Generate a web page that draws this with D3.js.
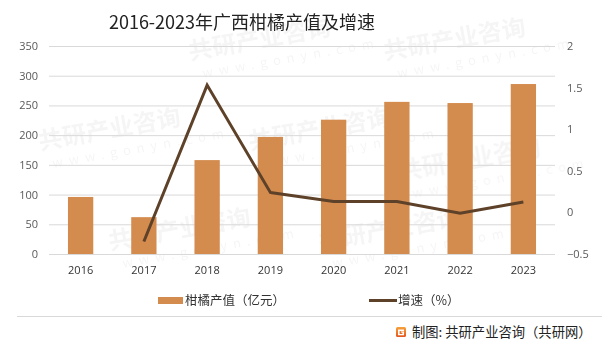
<!DOCTYPE html>
<html>
<head>
<meta charset="utf-8">
<script src="https://cdn.jsdelivr.net/npm/d3@7/dist/d3.min.js"></script>
<style>
  html, body { margin: 0; padding: 0; background: #fff; }
  svg { display: block; font-family: "Noto Sans CJK SC", "Noto Sans", sans-serif; }
</style>
</head>
<body>
<svg id="chart" width="602" height="347"></svg>
<script>
// Citrus output value of Guangxi (100 million yuan) and year-on-year growth
const years = ["2016", "2017", "2018", "2019", "2020", "2021", "2022", "2023"];
const outputValue = [96, 62, 158, 197, 226, 256, 254, 286];
const growthRate = [null, -0.35, 1.53, 0.24, 0.13, 0.13, -0.01, 0.125];
const leftTicks = [0, 50, 100, 150, 200, 250, 300, 350];
const rightTicks = [-0.5, 0, 0.5, 1, 1.5, 2];

const title = "2016-2023年广西柑橘产值及增速";
const barLabel = "柑橘产值（亿元）";
const lineLabel = "增速（%）";
const credit = "制图: 共研产业咨询（共研网）";

const barColor = "#D48B4E";
const lineColor = "#5E4129";
const gridColor = "#D9D9D9";
const textColor = "#595959";

const svg = d3.select("#chart");
const plot = { left: 49, right: 555, top: 46, bottom: 254 };

// faint background watermarks
const wm = svg.append("g").attr("fill", "#000").attr("opacity", 0.04)
  .attr("font-weight", "bold");
const wmSpots = [[190, 60], [385, 60], [40, 150], [250, 150], [400, 180], [110, 250], [320, 250]];
wmSpots.forEach(([x, y]) => {
  const g = wm.append("g").attr("transform", `translate(${x},${y}) rotate(-10)`);
  g.append("text").attr("font-size", 24).text("共研产业咨询");
  g.append("text").attr("y", 20).attr("x", 10).attr("font-size", 13)
    .attr("font-weight", "normal").attr("letter-spacing", 6).text("www.gonyn.com");
});

const x = d3.scaleBand().domain(years).range([plot.left, plot.right]).paddingInner(0.6).paddingOuter(0.3);
const yL = d3.scaleLinear().domain([0, 350]).range([plot.bottom, plot.top]);
const yR = d3.scaleLinear().domain([-0.5, 2]).range([plot.bottom, plot.top]);
const center = d => x(d) + x.bandwidth() / 2;

// gridlines
svg.append("g").selectAll("line").data(leftTicks).join("line")
  .attr("x1", plot.left).attr("x2", plot.right)
  .attr("y1", d => yL(d) + 0.5).attr("y2", d => yL(d) + 0.5)
  .attr("stroke", gridColor).attr("stroke-width", 1);

// left axis
const axL = svg.append("g").attr("transform", `translate(${plot.left - 11},0)`)
  .call(d3.axisLeft(yL).tickValues(leftTicks).tickSize(0).tickPadding(0));
axL.select(".domain").remove();
axL.selectAll("text").attr("fill", textColor).attr("font-size", 11)
  .attr("font-family", "'Open Sans', 'Noto Sans', sans-serif");

// right axis
const axR = svg.append("g").attr("transform", `translate(${plot.right + 12},0)`)
  .call(d3.axisRight(yR).tickValues(rightTicks).tickSize(0).tickPadding(0).tickFormat(d3.format("")));
axR.select(".domain").remove();
axR.selectAll("text").attr("fill", textColor).attr("font-size", 11)
  .attr("font-family", "'Open Sans', 'Noto Sans', sans-serif");

// x axis labels
const axX = svg.append("g").attr("transform", `translate(0,${plot.bottom + 8})`)
  .call(d3.axisBottom(x).tickSize(0).tickPadding(4));
axX.select(".domain").remove();
axX.selectAll("text").attr("fill", "#333").attr("font-size", 11)
  .attr("font-family", "'Open Sans', 'Noto Sans', sans-serif");

// bars
svg.append("g").selectAll("rect").data(years).join("rect")
  .attr("x", d => x(d))
  .attr("width", x.bandwidth())
  .attr("y", (d, i) => yL(outputValue[i]))
  .attr("height", (d, i) => yL(0) - yL(outputValue[i]))
  .attr("fill", barColor);

// growth line
const pts = years.map((d, i) => ({ year: d, v: growthRate[i] })).filter(p => p.v !== null);
svg.append("path").datum(pts)
  .attr("d", d3.line().x(p => center(p.year)).y(p => yR(p.v)))
  .attr("fill", "none").attr("stroke", lineColor).attr("stroke-width", 3)
  .attr("stroke-linejoin", "miter");

// title
svg.append("text").attr("x", 242).attr("y", 29).attr("text-anchor", "middle")
  .attr("font-size", 18).attr("fill", "#222").text(title);

// legend
const lg = svg.append("g").attr("font-size", 12.5).attr("fill", "#333");
lg.append("rect").attr("x", 158).attr("y", 297).attr("width", 25).attr("height", 7).attr("fill", barColor);
lg.append("text").attr("x", 185).attr("y", 305).text(barLabel);
lg.append("line").attr("x1", 369).attr("x2", 397).attr("y1", 300.5).attr("y2", 300.5)
  .attr("stroke", lineColor).attr("stroke-width", 3);
lg.append("text").attr("x", 398).attr("y", 305).text(lineLabel);

// footer separator and credit
svg.append("line").attr("x1", 17).attr("x2", 602).attr("y1", 316.5).attr("y2", 316.5)
  .attr("stroke", "#D9D9D9").attr("stroke-width", 1);
const grad = svg.append("defs").append("linearGradient").attr("id", "logoGrad")
  .attr("x1", 0).attr("y1", 0).attr("x2", 0).attr("y2", 1);
grad.append("stop").attr("offset", 0).attr("stop-color", "#F7A23A");
grad.append("stop").attr("offset", 1).attr("stop-color", "#E4551E");
const logo = svg.append("g").attr("transform", "translate(396,327)");
logo.append("rect").attr("width", 10).attr("height", 10).attr("rx", 1.5).attr("fill", "url(#logoGrad)");
logo.append("path").attr("d", "M2,2.5 H8 V4 H3.6 V7 H6.4 V5.6 H5 V4.6 H8 V8.2 H2 Z").attr("fill", "#fff");
svg.append("text").attr("x", 412).attr("y", 337).attr("font-size", 13.3).attr("fill", "#222").text(credit);
</script>
</body>
</html>
